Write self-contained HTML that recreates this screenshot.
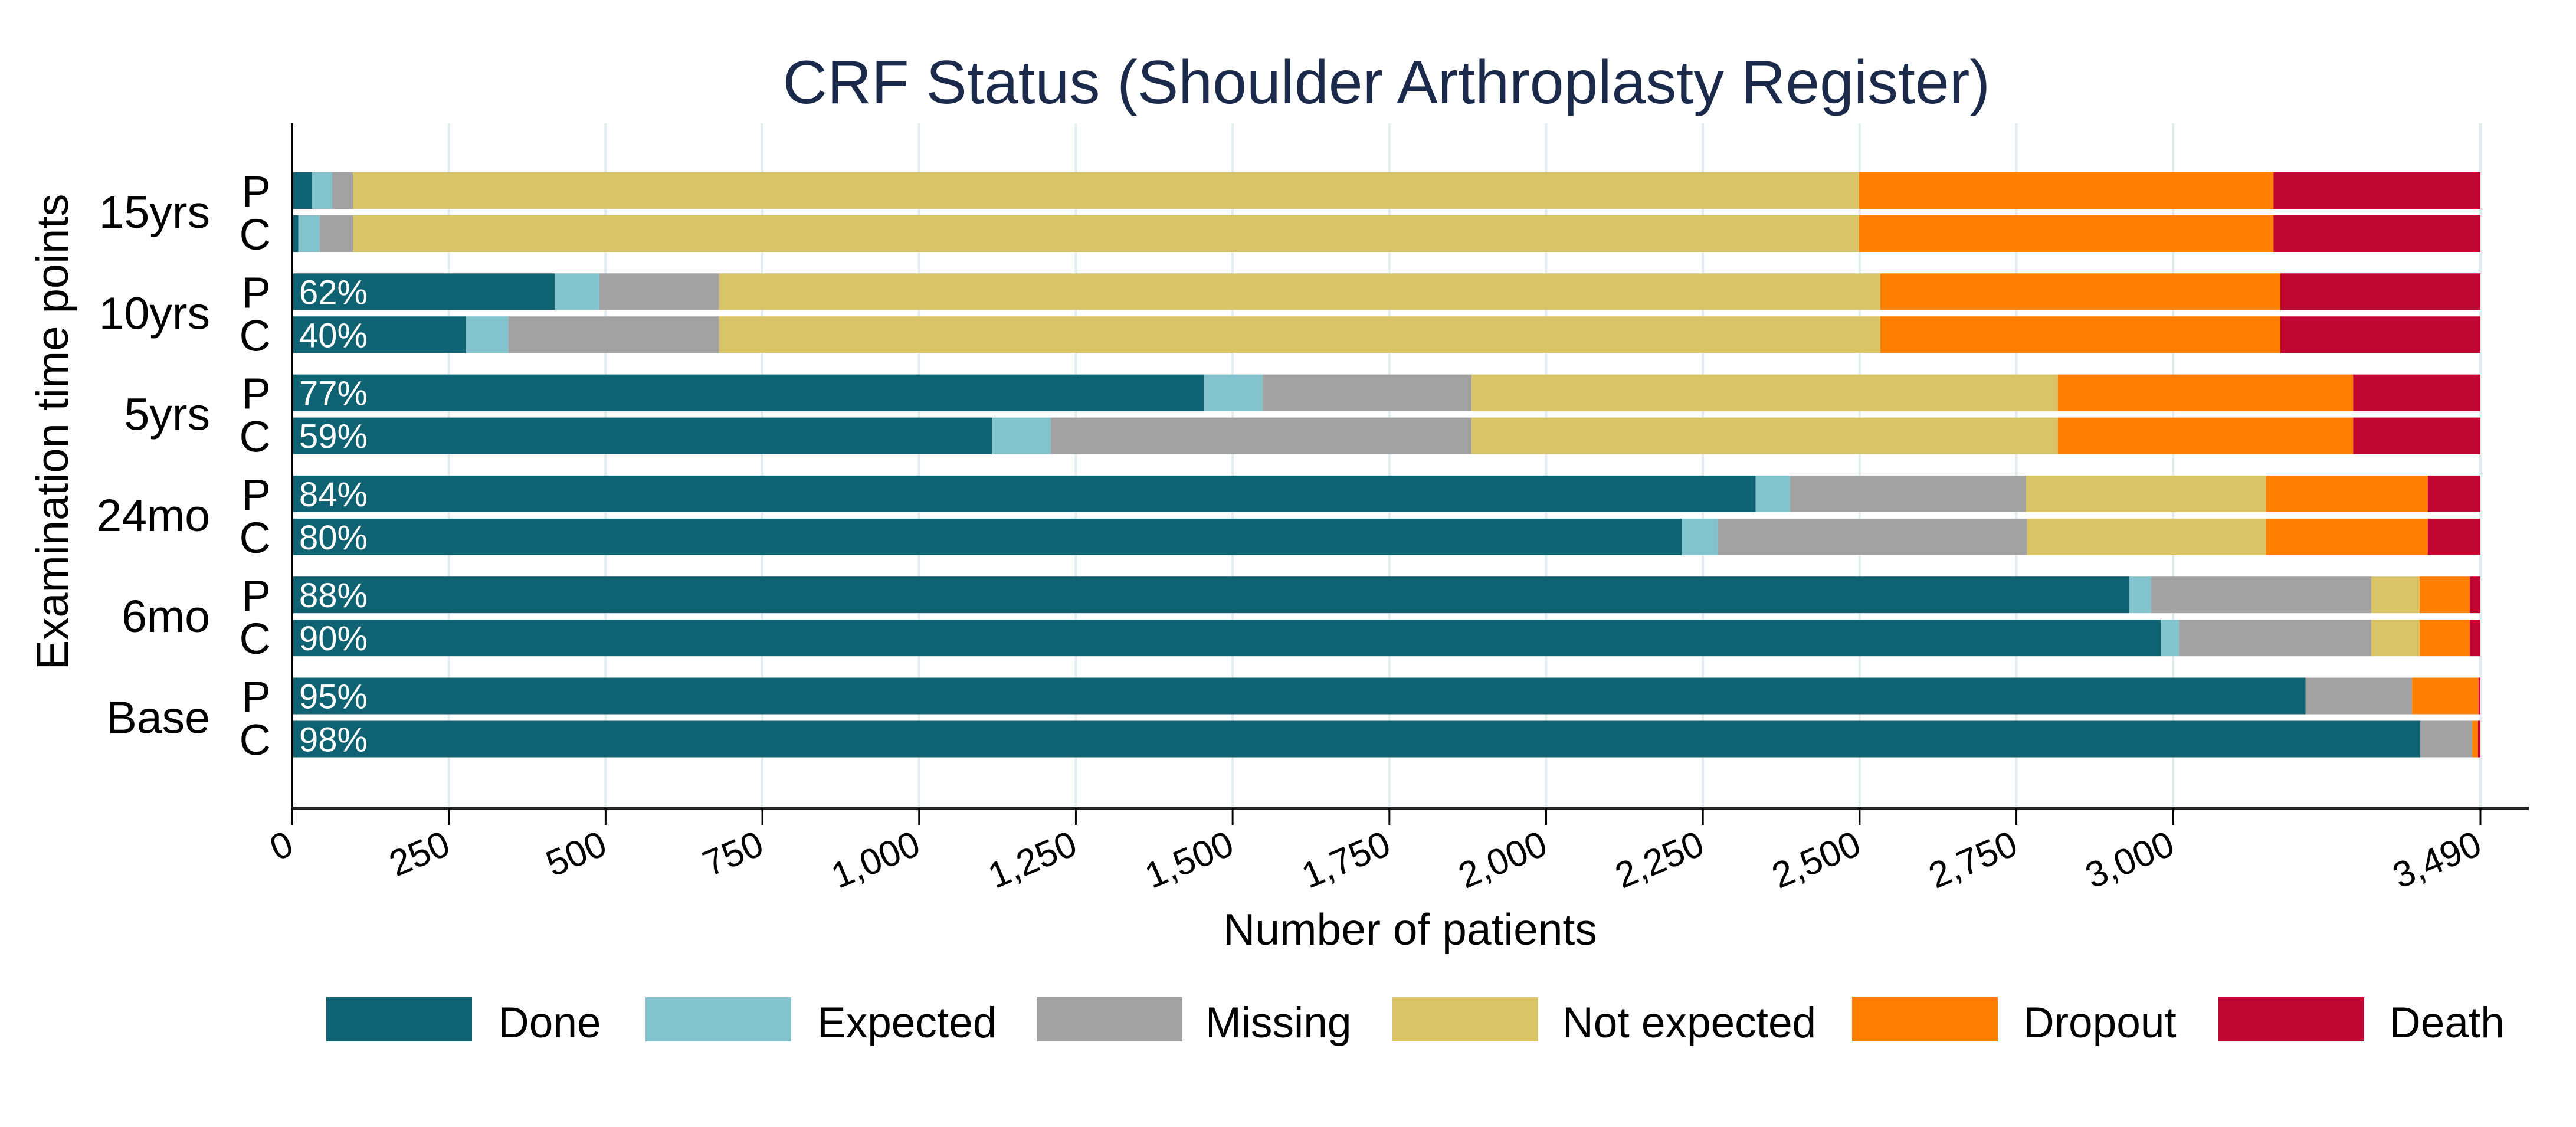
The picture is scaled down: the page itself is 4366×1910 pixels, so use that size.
<!DOCTYPE html>
<html><head><meta charset="utf-8"><style>
html,body{margin:0;padding:0;background:#fff;}
svg{display:block;font-family:"Liberation Sans",Arial,sans-serif;}
</style></head><body>
<svg id="chart" width="4366" height="1910" viewBox="0 0 4366 1910" xmlns="http://www.w3.org/2000/svg">
<rect width="4366" height="1910" fill="#fff"/>
<text x="2350" y="175" font-size="104" fill="#1b2a4a" text-anchor="middle">CRF Status (Shoulder Arthroplasty Register)</text>
<g id="grid"></g>
<g id="bars"></g>
<g id="axes"></g>
<text transform="translate(115,732) rotate(-90)" font-size="76" text-anchor="middle" fill="#000">Examination time points</text>
<text x="2390" y="1601" font-size="75" text-anchor="middle" fill="#000">Number of patients</text>
<g id="legend"></g>
</svg>
<script>
const groups = ["15yrs","10yrs","5yrs","24mo","6mo","Base"];
const subLabels = ["P","C"];
const seriesNames = ["Done","Expected","Missing","Not expected","Dropout","Death"];
// values per bar (order: 15P,15C,10P,10C,5P,5C,24P,24C,6P,6C,BP,BC)
const done        = [32, 10, 419, 277, 1454, 1116, 2334, 2216, 2930, 2980, 3211, 3394];
const expected    = [32, 34, 71, 68, 94, 94, 55, 58, 35, 29, 0, 0];
const missing     = [33, 53, 191, 336, 333, 671, 376, 493, 351, 307, 170, 83];
const notExpected = [2402, 2402, 1852, 1852, 935, 935, 383, 381, 77, 77, 0, 0];
const dropout     = [661, 661, 638, 638, 471, 471, 258, 258, 80, 80, 106, 9];
const death       = [330, 330, 319, 319, 203, 203, 84, 84, 17, 17, 3, 4];
const pctLabels   = ["", "", "62%", "40%", "77%", "59%", "84%", "80%", "88%", "90%", "95%", "98%"];
const tickValues  = [0,250,500,750,1000,1250,1500,1750,2000,2250,2500,2750,3000,3490];
const tickLabels  = ["0","250","500","750","1,000","1,250","1,500","1,750","2,000","2,250","2,500","2,750","3,000","3,490"];
const colors = ["#0f6271","#83c3ce","#a2a2a2","#d8c367","#ff7f00","#c00532"];

const NS="http://www.w3.org/2000/svg";
const X0=495, XMAX=3490, X1=4204;
const x = v => X0 + v*(X1-X0)/XMAX;
const barTop = (g,s) => 292 + g*171.3 + s*73;
const BH=62;
function mk(tag, attrs, parent){const e=document.createElementNS(NS,tag);for(const k in attrs)e.setAttribute(k,attrs[k]);parent.appendChild(e);return e;}

const grid=document.getElementById('grid');
tickValues.forEach((t,i)=>{
  if(i===0) return;
  const l=mk('line',{x1:x(t),x2:x(t),y1:209,y2:1370,stroke:'#e3edef','stroke-width':4},grid);
  
  
});

const bars=document.getElementById('bars');
const series=[done,expected,missing,notExpected,dropout,death];
for(let b=0;b<done.length;b++){
  const g=Math.floor(b/2), s=b%2;
  let acc=0;
  series.forEach((arr,k)=>{
    const v=arr[b];
    if(v>0){
      const r=mk('rect',{x:x(acc),y:barTop(g,s),width:x(acc+v)-x(acc),height:BH,fill:colors[k]},bars);
      
      
    }
    acc+=v;
  });
  if(pctLabels[b]){
    const t=mk('text',{x:507,y:barTop(g,s)+BH/2+21,'font-size':58,fill:'#fff'},bars);
    t.textContent=pctLabels[b];
    
    
  }
  const sl=mk('text',{x:459,y:barTop(g,s)+BH/2+27,'font-size':74,'text-anchor':'end',fill:'#000'},bars);
  sl.textContent=subLabels[s];
  
  
}
groups.forEach((gname,g)=>{
  const t=mk('text',{x:356,y:barTop(g,0)+BH+5+27,'font-size':77,'text-anchor':'end',fill:'#000'},bars);
  t.textContent=gname;
  
  
});

const axes=document.getElementById('axes');
const ya=mk('line',{x1:X0,x2:X0,y1:209,y2:1372,stroke:'#000','stroke-width':4},axes);


const xa=mk('line',{x1:X0-2,x2:4286,y1:1370,y2:1370,stroke:'#222','stroke-width':6},axes);


tickValues.forEach((t,i)=>{
  const tk=mk('line',{x1:x(t),x2:x(t),y1:1370,y2:1398,stroke:'#000','stroke-width':3},axes);
  
  
  const tl=mk('text',{transform:`translate(${x(t)+6},${1446}) rotate(-23)`,'font-size':62,'text-anchor':'end',fill:'#000'},axes);
  tl.textContent=tickLabels[i];
  
  
});

const legend=document.getElementById('legend');
const legBox=[553,1094,1757,2360,3139,3760];
const legText=[844,1385,2043,2648,3429,4050];
seriesNames.forEach((n,k)=>{
  const r=mk('rect',{x:legBox[k],y:1690,width:247,height:75,fill:colors[k]},legend);
  
  
  const t=mk('text',{x:legText[k],y:1758,'font-size':73,fill:'#000'},legend);
  t.textContent=n;
  
  
});
</script>
</body></html>
